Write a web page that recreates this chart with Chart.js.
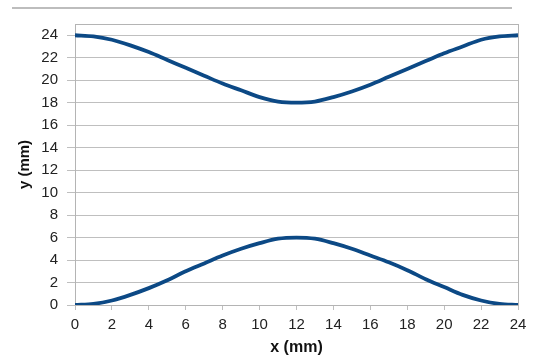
<!DOCTYPE html>
<html>
<head>
<meta charset="utf-8">
<script src="https://cdn.jsdelivr.net/npm/chart.js@4"></script>
<style>
  html, body { margin: 0; padding: 0; background: #fff; }
  #wrap { width: 550px; height: 361px; }
</style>
</head>
<body>
<div id="wrap"><canvas id="profileChart" width="550" height="361"></canvas></div>
<script>
// values
const xValues = [0, 1, 2, 3, 4, 5, 6, 7, 8, 9, 10, 11, 12, 13, 14, 15, 16, 17, 18, 19, 20, 21, 22, 23, 24];
const upperY = [24, 23.9, 23.6, 23.1, 22.5, 21.8, 21.1, 20.4, 19.7, 19.1, 18.5, 18.1, 18.0, 18.1, 18.5, 19.0, 19.6, 20.3, 21.0, 21.7, 22.4, 23.0, 23.6, 23.9, 24];
const lowerY = [0, 0.1, 0.4, 0.9, 1.5, 2.2, 3.0, 3.7, 4.4, 5.0, 5.5, 5.9, 6.0, 5.9, 5.5, 5.0, 4.4, 3.8, 3.1, 2.3, 1.6, 0.9, 0.4, 0.1, 0];
const xTicks = [0, 2, 4, 6, 8, 10, 12, 14, 16, 18, 20, 22, 24];
const yTicks = [0, 2, 4, 6, 8, 10, 12, 14, 16, 18, 20, 22, 24];

const lineColor = '#0c4985';
const gridColor = '#bfbfbf';
const font = { family: 'Liberation Sans, Arial, sans-serif', size: 15 };

(() => {
    const ctx = document.getElementById('profileChart').getContext('2d');
    const toPoints = ys => xValues.map((x, i) => ({ x, y: ys[i] }));

    // frame round the plot area and the grey rule above the chart
    const framePlugin = {
        id: 'frame',
        beforeDraw(chart) {
            const c = chart.ctx;
            c.save();
            c.strokeStyle = '#bdbdbd';
            c.lineWidth = 2;
            c.beginPath();
            c.moveTo(12, 8);
            c.lineTo(512, 8);
            c.stroke();
            c.restore();
        },
        beforeDatasetsDraw(chart) {
            const { left, top, right, bottom } = chart.chartArea;
            const c = chart.ctx;
            c.save();
            c.strokeStyle = '#b4b4b4';
            c.lineWidth = 1;
            c.strokeRect(left + 0.5, top + 0.5, right - left, bottom - top);
            c.restore();
        }
    };

    new Chart(ctx, {
        type: 'line',
        data: {
            datasets: [
                { data: toPoints(upperY) },
                { data: toPoints(lowerY) }
            ].map(d => ({
                ...d,
                borderColor: lineColor,
                borderWidth: 3.8,
                pointRadius: 0,
                cubicInterpolationMode: 'monotone',
                fill: false
            }))
        },
        options: {
            responsive: false,
            animation: false,
            layout: { padding: { top: 24, right: 32, left: 0, bottom: 0 } },
            plugins: { legend: { display: false }, tooltip: { enabled: false } },
            scales: {
                x: {
                    type: 'linear',
                    min: xTicks[0],
                    max: xTicks[xTicks.length - 1],
                    afterFit: s => { s.height = 56; },
                    afterBuildTicks: s => { s.ticks = xTicks.map(value => ({ value })); },
                    ticks: { color: '#222', font, padding: 6, maxRotation: 0, autoSkip: false },
                    grid: { drawOnChartArea: false, color: gridColor, tickLength: 5 },
                    border: { color: gridColor },
                    title: { display: true, text: 'x (mm)', color: '#111', font: { ...font, size: 16, weight: 'bold' }, padding: { top: 0 } }
                },
                y: {
                    min: yTicks[0],
                    max: 25,
                    afterFit: s => { s.width = 75; },
                    afterBuildTicks: s => { s.ticks = yTicks.map(value => ({ value })); },
                    ticks: { color: '#222', font, padding: 9, autoSkip: false },
                    grid: { color: gridColor, tickLength: 8 },
                    border: { color: gridColor },
                    title: { display: true, text: 'y (mm)', color: '#111', font: { ...font, weight: 'bold' }, padding: { top: 16 } }
                }
            }
        },
        plugins: [framePlugin]
    });
})();
</script>
</body>
</html>
